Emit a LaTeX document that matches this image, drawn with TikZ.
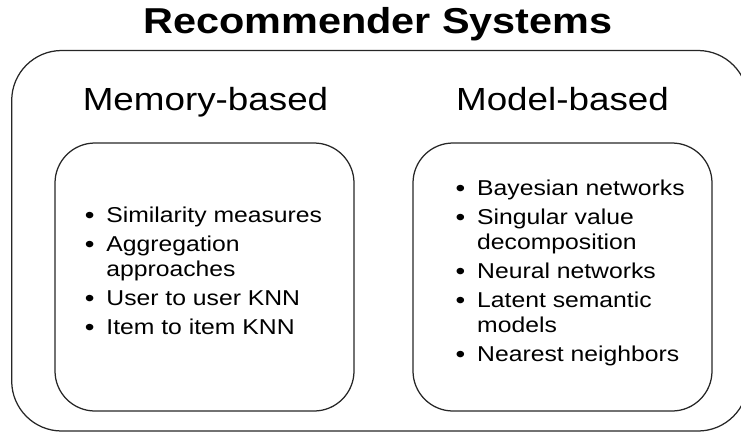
\documentclass[tikz,border=0pt]{standalone}
\usepackage{fontspec}
\setmainfont{Liberation Sans}[FakeStretch=1.15]
\newlength\bw
\setlength\bw{21.5pt}
\newcommand\itm[1]{\makebox[\bw][l]{\raisebox{-1pt}{\fontsize{24}{25}\selectfont\textbullet}}#1}
\newcommand\cnt[1]{\hspace*{\bw}#1}
\begin{document}
\begin{tikzpicture}[x=1pt,y=-1pt,
  frame/.style={draw=black!85, line width=1.25pt, rounded corners=#1, inner sep=0pt},
  heading/.style={font=\fontsize{32}{38}\selectfont, anchor=base, inner sep=0pt},
  listtext/.style={font=\fontsize{21.5}{25}\selectfont, anchor=base west, inner sep=0pt}]
\clip (0,0) rectangle (741,437);
\node[frame=50pt, minimum width=736.3pt, minimum height=380.5pt] (outer) at (379.85,240.75) {};
\node[frame=40pt, minimum width=299pt, minimum height=268pt] (membox) at (204.5,277) {};
\node[frame=40pt, minimum width=299pt, minimum height=268pt] (modbox) at (562.5,277) {};
\node[font=\bfseries\fontsize{36}{40}\selectfont, anchor=base, inner sep=0pt] (title) at (378,33) {Recommender Systems};
\node[heading] (memh) at (205.5,110) {Memory-based};
\node[heading] (modh) at (562.5,110) {Model-based};
\node[listtext] (meml) at (84.7,222) {\begin{tabular}[t]{@{}l@{}}
\itm{Similarity measures}\\[4pt]
\itm{Aggregation}\\
\cnt{approaches}\\[4pt]
\itm{User to user KNN}\\[4pt]
\itm{Item to item KNN}
\end{tabular}};
\node[listtext] (modl) at (455.5,195) {\begin{tabular}[t]{@{}l@{}}
\itm{Bayesian networks}\\[4pt]
\itm{Singular value}\\
\cnt{decomposition}\\[4pt]
\itm{Neural networks}\\[4pt]
\itm{Latent semantic}\\
\cnt{models}\\[4pt]
\itm{Nearest neighbors}
\end{tabular}};
\end{tikzpicture}
\end{document}
